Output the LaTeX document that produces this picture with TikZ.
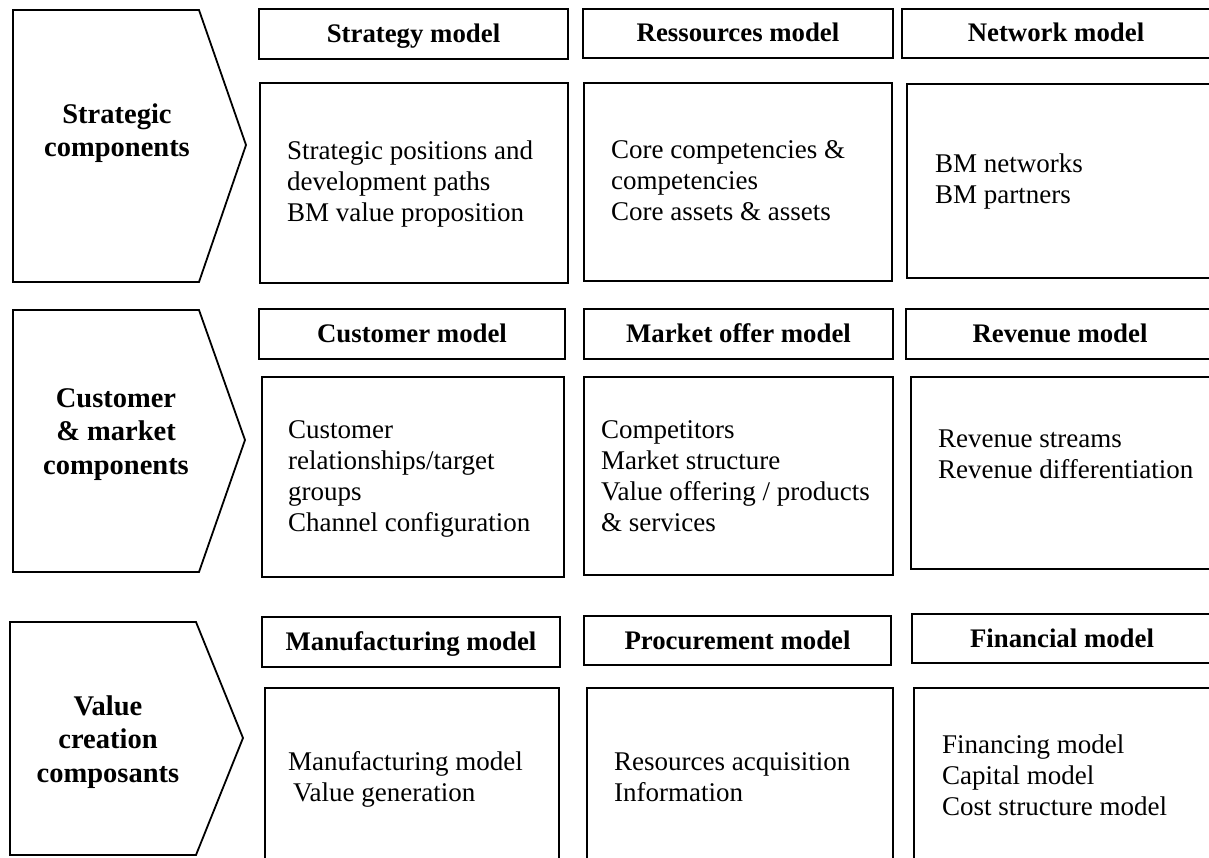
\documentclass[tikz,border=0pt]{standalone}
\usepackage{fontspec}
\setmainfont{Liberation Serif}
\begin{document}
\begin{tikzpicture}[x=1pt,y=-1pt,
  outline/.style={draw=black,line width=1.8pt,line join=miter},
  header/.style={outline,anchor=center,inner sep=0pt,text height=17pt,text depth=0pt,
     font=\fontsize{26.8}{31}\selectfont\bfseries},
  bodybox/.style={outline,anchor=north west,inner sep=0pt},
  bodytext/.style={anchor=base west,inner sep=0pt,align=left,
     font=\fontsize{27}{31}\selectfont},
  chevtext/.style={anchor=base,inner sep=0pt,align=center,
     font=\fontsize{28.5}{33.5}\selectfont\bfseries}]
\useasboundingbox (0,0) rectangle (1209,858);
\clip (0,0) rectangle (1209,858);
\fill[white] (0,0) rectangle (1209,858);

% chevrons
\draw[outline] (13,10) -- (199,10) -- (246,145) -- (199,282) -- (13,282) -- cycle;
\draw[outline] (13,310) -- (199,310) -- (245,440) -- (199,572) -- (13,572) -- cycle;
\draw[outline] (10,622) -- (196,622) -- (243,738) -- (196,855) -- (10,855) -- cycle;
\node[chevtext] (c1) at (117,157) {Strategic\\components};
\node[chevtext] (c2) at (116,474) {Customer\\\& market\\components};
\node[chevtext] (c3) at (108,782) {Value\\creation\\composants};

% headers
\node[header,minimum width=309pt,minimum height=50pt] (h1) at (413.5,34) {Strategy model};
\node[header,minimum width=310pt,minimum height=49pt] (h2) at (738,33.5) {Ressources model};
\node[header,minimum width=308pt,minimum height=49pt] (h3) at (1056,33.5) {Network model};
\node[header,minimum width=306pt,minimum height=50pt] (h4) at (412,334) {Customer model};
\node[header,minimum width=309pt,minimum height=50pt] (h5) at (738.5,334) {Market offer model};
\node[header,minimum width=308pt,minimum height=50pt] (h6) at (1060,334) {Revenue model};
\node[header,minimum width=298pt,minimum height=50pt] (h7) at (411,642) {Manufacturing model};
\node[header,minimum width=307pt,minimum height=49pt] (h8) at (737.5,640.5) {Procurement model};
\node[header,minimum width=300pt,minimum height=49pt] (h9) at (1062,638.5) {Financial model};

% body boxes
\node[bodybox,minimum width=308pt,minimum height=200pt] (b1) at (259,82) {};
\node[bodybox,minimum width=308pt,minimum height=198pt] (b2) at (583,82) {};
\node[bodybox,minimum width=320pt,minimum height=194pt] (b3) at (906,83) {};
\node[bodybox,minimum width=302pt,minimum height=200pt] (b4) at (261,376) {};
\node[bodybox,minimum width=309pt,minimum height=198pt] (b5) at (583,376) {};
\node[bodybox,minimum width=320pt,minimum height=192pt] (b6) at (910,376) {};
\node[bodybox,minimum width=294pt,minimum height=200pt] (b7) at (264,687) {};
\node[bodybox,minimum width=306pt,minimum height=200pt] (b8) at (586,687) {};
\node[bodybox,minimum width=320pt,minimum height=200pt] (b9) at (913,687) {};

% body texts (anchor = baseline of the last line)
\node[bodytext] (t1) at (287,222) {Strategic positions and\\development paths\\BM value proposition};
\node[bodytext] (t2) at (611,221) {Core competencies \&\\competencies\\Core assets \& assets};
\node[bodytext] (t3) at (935,204) {BM networks\\BM partners};
\node[bodytext] (t4) at (288,531) {Customer\\relationships/target\\groups\\Channel configuration};
\node[bodytext] (t5) at (601,531) {Competitors\\Market structure\\Value offering / products\\\& services};
\node[bodytext] (t6) at (938,478) {Revenue streams\\Revenue differentiation};
\node[bodytext] (t7) at (288,801) {Manufacturing model\\\hspace*{5pt}Value generation};
\node[bodytext] (t8) at (614,801) {Resources acquisition\\Information};
\node[bodytext] (t9) at (942,815) {Financing model\\Capital model\\Cost structure model};
\end{tikzpicture}
\end{document}
